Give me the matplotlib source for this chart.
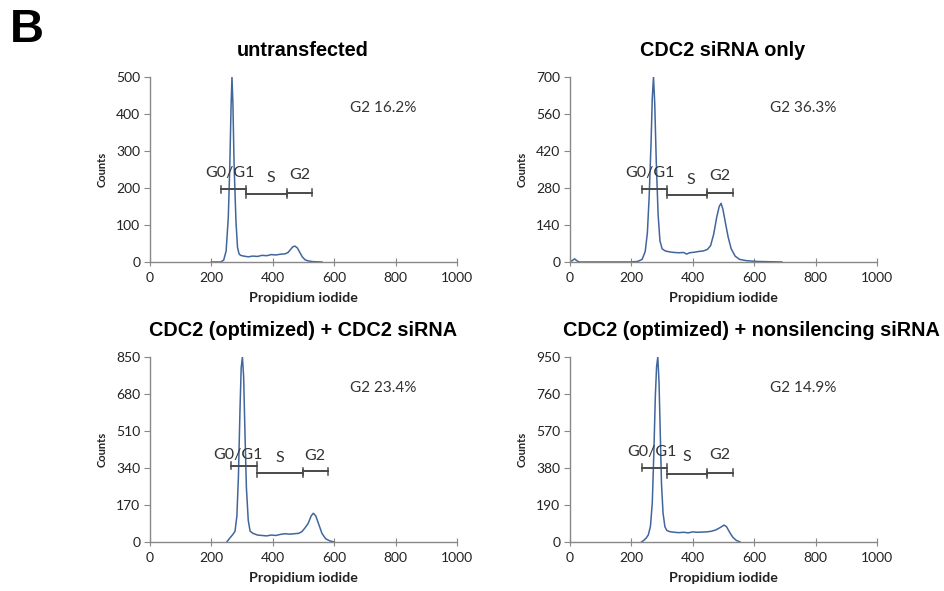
# %% Libraries
import numpy as np
import matplotlib.pyplot as plt

# %% Data
# --+ panel titles
titles = ['untransfected', 'CDC2 siRNA only',
          'CDC2 (optimized) + CDC2 siRNA', 'CDC2 (optimized) + nonsilencing siRNA']
g2_text = ['G2 16.2%', 'G2 36.3%', 'G2 23.4%', 'G2 14.9%']
y_max = [500, 700, 850, 950]
y_ticks = [[0, 100, 200, 300, 400, 500],
           [0, 140, 280, 420, 560, 700],
           [0, 170, 340, 510, 680, 850],
           [0, 190, 380, 570, 760, 950]]
x_ticks = [0, 200, 400, 600, 800, 1000]

# --+ histogram traces (propidium iodide, counts)
x_untr = [200, 230, 240, 248, 255, 260, 264, 267, 270, 274, 280, 285, 290, 295, 305, 320,
          335, 350, 365, 380, 395, 410, 425, 440, 450, 458, 465, 472, 480, 488, 496, 505,
          515, 530, 560]
y_untr = [0, 0, 5, 30, 120, 260, 420, 500, 430, 260, 110, 40, 22, 18, 16, 14,
          16, 15, 18, 17, 20, 19, 21, 22, 26, 34, 41, 43, 38, 26, 14, 6,
          3, 1, 0]

x_sirna = [0, 8, 15, 22, 30, 195, 220, 235, 245, 252, 258, 264, 268, 272, 276, 281,
           287, 293, 300, 310, 325, 340, 355, 370, 380, 390, 405, 420, 435, 448, 458,
           468, 478, 486, 492, 498, 506, 515, 525, 538, 552, 575, 610, 650, 690]
y_sirna = [0, 6, 12, 5, 0, 0, 2, 10, 40, 110, 250, 450, 620, 700, 600, 380,
           180, 80, 50, 42, 38, 36, 35, 36, 30, 35, 37, 40, 42, 48, 62,
           105, 170, 210, 222, 200, 150, 95, 50, 22, 10, 5, 2, 1, 0]

x_opt = [250, 260, 270, 277, 283, 288, 293, 297, 301, 305, 309, 314, 320, 326, 335,
         350, 365, 380, 395, 410, 425, 440, 455, 470, 485, 495, 505, 515, 525, 532,
         540, 550, 560, 572, 586, 600]
y_opt = [0, 18, 35, 50, 120, 300, 600, 800, 850, 760, 520, 250, 100, 50, 40,
         32, 30, 28, 32, 30, 35, 38, 36, 38, 40, 48, 65, 85, 120, 132,
         120, 80, 40, 15, 5, 0]

x_nons = [233, 240, 248, 255, 262, 268, 273, 278, 282, 286, 290, 294, 298, 303, 309,
          315, 325, 340, 355, 370, 385, 400, 415, 430, 445, 460, 475, 490, 502, 510,
          520, 530, 542, 554]
y_nons = [0, 8, 20, 36, 80, 200, 450, 750, 900, 950, 820, 560, 300, 150, 79,
          60, 53, 50, 48, 50, 47, 52, 50, 51, 52, 55, 62, 75, 87, 78,
          50, 25, 8, 0]

traces = [(x_untr, y_untr), (x_sirna, y_sirna), (x_opt, y_opt), (x_nons, y_nons)]

# --+ gate brackets: (start, end, height) for G0/G1, S, G2
gates = [[(231, 312, 197), (312, 445, 183), (445, 529, 187)],
         [(235, 315, 276), (315, 447, 255), (447, 530, 262)],
         [(264, 348, 351), (348, 497, 316), (497, 581, 326)],
         [(233, 315, 382), (315, 447, 348), (447, 530, 356)]]
# --+ gate label anchors: (x, y) for G0/G1, S, G2
gate_labels = ['G0/G1', 'S', 'G2']
label_pos = [[(261, 240), (393, 227), (489, 235)],
             [(262, 335), (393, 312), (489, 325)],
             [(288, 400), (423, 385), (537, 395)],
             [(266, 464), (380, 435), (489, 447)]]

# %% Figure
plt.rcParams['font.family'] = ['Lato', 'DejaVu Sans']
fig = plt.figure(figsize=(9.44, 5.91), dpi=100)
W, H = 944, 591
# --+ axes boxes in pixels (left, top, right, bottom)
boxes = [(150, 77, 457, 262), (570, 77, 877, 262),
         (150, 357, 457, 542), (570, 357, 877, 542)]
title_x = [303, 723, 303, 751]
title_y = [56, 56, 336, 336]
line_c = '#41669c'
gray = '#4a4a4a'

for i, (l, t, r, b) in enumerate(boxes):
    ax = fig.add_axes([l / W, 1 - b / H, (r - l) / W, (b - t) / H])
    xs, ys = traces[i]
    ax.plot(xs, ys, color=line_c, lw=1.1)
    ax.set_xlim(0, 1000)
    ax.set_ylim(0, y_max[i])
    # --+ spines
    for s in ['top', 'right']:
        ax.spines[s].set_visible(False)
    for s in ['left', 'bottom']:
        ax.spines[s].set_color('#888888')
        ax.spines[s].set_linewidth(1.0)
    ax.set_xticks(x_ticks)
    ax.set_yticks(y_ticks[i])
    ax.tick_params(axis='x', direction='inout', length=6, width=0.8, colors='#888888',
                   labelcolor='#222222', labelsize=10, pad=4)
    ax.tick_params(axis='y', direction='out', length=4, width=0.8, colors='#888888',
                   labelcolor='#222222', labelsize=10, pad=3)
    ax.set_xlabel('Propidium iodide', fontsize=10.3, fontweight='bold', labelpad=6,
                  color='#222222')
    ax.set_ylabel('Counts', fontsize=8, fontweight='bold', labelpad=6, color='#222222')
    # --+ gate brackets
    tick_h = y_max[i] * 0.019
    for x0, x1, yy in gates[i]:
        ax.plot([x0, x1], [yy, yy], color=gray, lw=1.4)
        ax.plot([x0, x0], [yy - tick_h, yy + tick_h], color=gray, lw=1.1)
        ax.plot([x1, x1], [yy - tick_h, yy + tick_h], color=gray, lw=1.1)
    for lab, (lx, ly) in zip(gate_labels, label_pos[i]):
        ax.text(lx, ly, lab, ha='center', va='center', fontsize=11.5, color='#333333')
    ax.text(651, y_max[i] * 0.832, g2_text[i], ha='left', va='center', fontsize=11,
            color='#333333')
    # --+ title
    fig.text(title_x[i] / W, 1 - title_y[i] / H, titles[i], ha='center', va='baseline',
             fontsize=14.3, fontweight='bold', family='Liberation Sans')

fig.text(10 / W, 1 - 42 / H, 'B', fontsize=34, fontweight='bold',
         family='Liberation Sans', va='baseline', ha='left')

fig.savefig('out.png', dpi=100)
